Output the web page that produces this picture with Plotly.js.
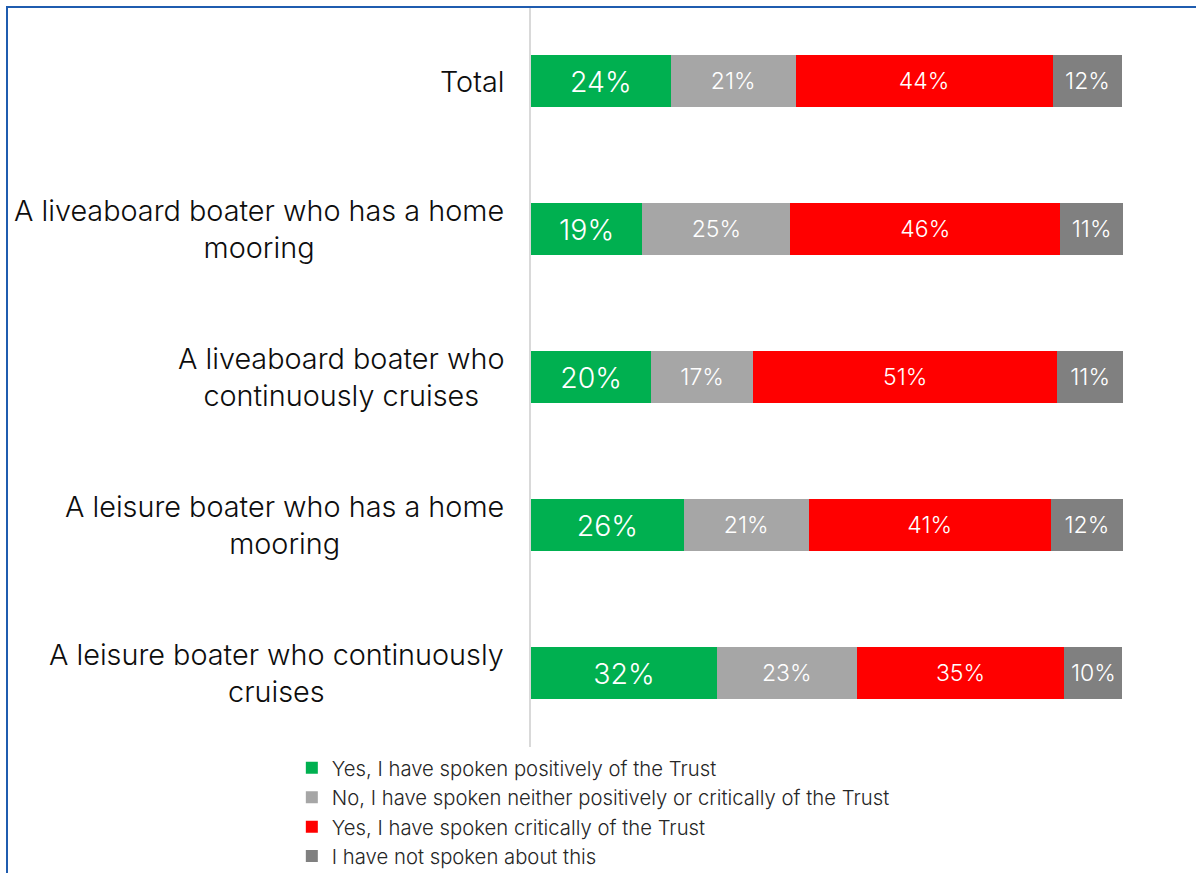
<!DOCTYPE html>
<html>
<head>
<meta charset="utf-8">
<script src="https://cdn.plot.ly/plotly-3.0.1.min.js"></script>
<style>
  html, body { margin: 0; padding: 0; background: #fff; }
  #frame { position: absolute; left: 6px; top: 6px; width: 1200px; height: 880px; border-left: 2px solid #1F5CAF; border-top: 2px solid #1F5CAF; box-sizing: border-box; pointer-events: none; z-index: 10; }
  #chart { width: 1196px; height: 873px; }
</style>
</head>
<body>
<div id="frame"></div>
<div id="chart"></div>
<script>
const categories = [
  "Total",
  "A liveaboard boater who has a home<br>mooring",
  "A liveaboard boater who<br>continuously cruises",
  "A leisure boater who has a home<br>mooring",
  "A leisure boater who continuously<br>cruises"
];
const seriesNames = [
  "Yes, I have spoken positively of the Trust",
  "No, I have spoken neither positively or critically of the Trust",
  "Yes, I have spoken critically of the Trust",
  "I have not spoken about this"
];
const positive  = [23.6, 18.8, 20.3, 25.8, 31.4];
const neutral   = [21.1, 25.0, 17.2, 21.1, 23.6];
const critical  = [43.4, 45.6, 51.4, 40.9, 35.1];
const notSpoken = [11.8, 10.6, 11.1, 12.2,  9.8];
const positiveLabels  = ["24%", "19%", "20%", "26%", "32%"];
const neutralLabels   = ["21%", "25%", "17%", "21%", "23%"];
const criticalLabels  = ["44%", "46%", "51%", "41%", "35%"];
const notSpokenLabels = ["12%", "11%", "11%", "12%", "10%"];
const colors = ["#00B050", "#A6A6A6", "#FF0000", "#808080"];

const valueSets = [positive, neutral, critical, notSpoken];
const labelSets = [positiveLabels, neutralLabels, criticalLabels, notSpokenLabels];
const textSizes = [28.5, 23, 23, 23];
const FONT = "Inter, 'Noto Sans', sans-serif";

const traces = valueSets.map((vals, i) => ({
  type: "bar",
  orientation: "h",
  name: seriesNames[i],
  y: categories,
  x: vals,
  text: labelSets[i],
  texttemplate: "%{text}",
  textposition: "inside",
  insidetextanchor: "middle",
  constraintext: "none",
  textangle: 0,
  textfont: { family: FONT, size: textSizes[i], color: "#FFFFFF", weight: 300 },
  marker: { color: colors[i] },
  hoverinfo: "skip"
}));

const annotations = categories.map(c => ({
  xref: "paper", yref: "y",
  x: 0, y: c,
  xanchor: "right", yanchor: "middle",
  xshift: -25,
  align: "center",
  showarrow: false,
  text: c,
  font: { family: FONT, size: 28.8, color: "#0D0D0D", weight: 300 }
}));

const layout = {
  width: 1196, height: 873,
  margin: { l: 531, r: 73, t: 7, b: 126, pad: 0, autoexpand: false },
  paper_bgcolor: "#FFFFFF",
  plot_bgcolor: "#FFFFFF",
  barmode: "stack",
  bargap: 0.645,
  showlegend: true,
  xaxis: { range: [0, 100], visible: false, fixedrange: true },
  yaxis: {
    autorange: "reversed",
    showticklabels: false,
    ticks: "",
    showgrid: false,
    zeroline: false,
    showline: true,
    linecolor: "#D9D9D9",
    linewidth: 2
  },
  legend: {
    orientation: "v",
    x: -0.404, xanchor: "left",
    yref: "container",
    y: 0.143, yanchor: "top",
    traceorder: "normal",
    font: { family: FONT, size: 20.3, color: "#262626", weight: 300 },
    itemwidth: 30,
    tracegroupgap: 0,
    bgcolor: "rgba(0,0,0,0)"
  },
  annotations: annotations
};

Plotly.newPlot("chart", traces, layout, { displayModeBar: false, staticPlot: true });
</script>
</body>
</html>
